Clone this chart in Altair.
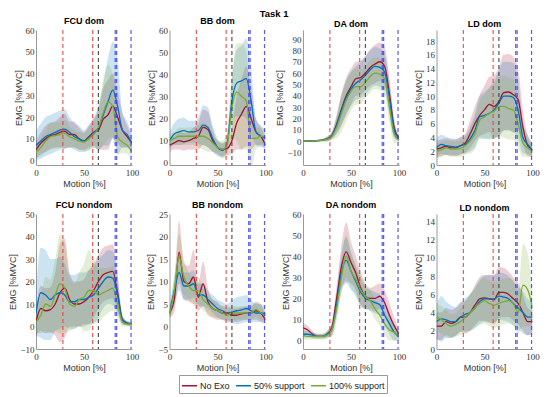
import altair as alt
import pandas as pd

X = list(range(0, 101, 5))
SERIES = ["No Exo", "50% support", "100% support"]
COLORS = ["#A2142F", "#0072BD", "#77AC30"]
PANELS = ["FCU dom", "BB dom", "DA dom", "LD dom",
          "FCU nondom", "BB nondom", "DA nondom", "LD nondom"]

# ---- FCU dom
fcu_dom_noexo = [5, 8, 10, 11.5, 12, 13, 13.5, 12, 12, 10, 9, 11, 13, 14, 19, 21, 25, 20, 14, 11, 8]
fcu_dom_50 = [7, 9, 11, 12, 13, 14, 14.5, 13, 11, 10, 9, 10.5, 13, 15, 21, 27, 32.5, 25, 14, 12, 8]
fcu_dom_100 = [4, 6, 9, 11, 11.5, 12, 12.5, 11, 10, 9, 8.5, 10, 12, 15, 22, 27, 25, 11, 8.5, 7, 4]
fcu_dom_noexo_sd = [4, 5, 6, 6, 6, 7, 8, 6, 6, 5, 4, 5, 6, 9, 14, 16, 15, 12, 8, 5, 3]
fcu_dom_50_sd = [7, 8, 9, 9, 9, 9, 9, 7, 6, 6, 5, 6, 7, 10, 14, 20, 22, 22, 8, 6, 4]
fcu_dom_100_sd = [3, 4, 5, 6, 6, 6, 6, 5, 4, 4, 4, 5, 6, 10, 15, 17, 14, 8, 5, 4, 3]

# ---- BB dom
bb_dom_noexo = [8, 9, 10, 9.5, 10, 11, 12, 16, 15, 10, 7, 6, 6.5, 10, 18, 22, 25.5, 20, 14, 12, 8]
bb_dom_50 = [10, 13, 14, 14.5, 14, 14, 14.5, 17, 16, 11, 7, 5.5, 9, 28, 36, 37, 38, 28, 14, 12, 11]
bb_dom_100 = [10, 11, 12, 12, 12, 12, 12, 12, 11, 9, 7, 6, 8, 25, 32, 30, 28, 11, 11, 12, 11.5]
bb_dom_noexo_sd = [3, 3, 4, 4, 4, 5, 6, 8, 8, 5, 3, 3, 3, 6, 12, 16, 18, 14, 6, 4, 3]
bb_dom_50_sd = [4, 5, 6, 6, 5, 5, 6, 9, 9, 6, 4, 3, 4, 10, 15, 16, 18, 15, 6, 5, 4]
bb_dom_100_sd = [3, 3, 4, 4, 4, 4, 5, 6, 6, 4, 3, 4, 5, 14, 22, 24, 22, 14, 5, 4, 3]

# ---- DA dom
da_dom_noexo = [0, 0, 0.2, 0.5, 1, 2, 5, 15, 28, 40, 48, 55, 56, 60, 65, 68, 70, 66, 42, 12, 3]
da_dom_50 = [0, 0, 0.2, 0.5, 1, 2, 5, 14, 27, 38, 46, 51, 54, 58, 63, 66, 65, 61, 38, 10, 2]
da_dom_100 = [0, 0, 0.2, 0.4, 0.8, 1.5, 4, 12, 24, 36, 44, 48, 48, 52, 57, 60, 59, 55, 30, 6, 1]
da_dom_noexo_sd = [0.3, 0.3, 0.5, 0.8, 1, 2, 3, 8, 14, 16, 16, 15, 15, 15, 16, 17, 17, 17, 15, 8, 3]
da_dom_50_sd = [0.3, 0.3, 0.5, 0.8, 1, 2, 3, 8, 13, 15, 15, 15, 16, 17, 17, 17, 17, 16, 14, 7, 2]
da_dom_100_sd = [0.3, 0.3, 0.5, 0.8, 1, 2, 3, 9, 16, 18, 17, 16, 15, 14, 14, 14, 14, 14, 14, 8, 2]

# ---- LD dom
ld_dom_noexo = [2.3, 2.5, 2.7, 2.5, 2.5, 2.8, 3.2, 4.5, 6, 7.2, 8, 8.8, 8.5, 9.2, 10.5, 10.6, 10.2, 9.5, 5.5, 2.8, 2.2]
ld_dom_50 = [2.5, 3, 2.8, 2.7, 2.6, 2.8, 3, 3.8, 5, 7, 7.2, 7.5, 8, 9, 10, 10, 9.8, 8, 4, 3, 2.2]
ld_dom_100 = [2, 2.2, 2.5, 2.3, 2.3, 2.4, 2.8, 3.5, 4.5, 6.5, 7, 7.5, 7.8, 8.5, 8.5, 8.2, 8, 6, 3.2, 2.5, 2]
ld_dom_noexo_sd = [1.2, 1.2, 1.2, 1.2, 1.2, 1.3, 1.4, 2, 2.5, 3, 3.5, 4, 4.5, 5, 5.5, 5.5, 5.5, 4.5, 2.5, 1.5, 1]
ld_dom_50_sd = [1.3, 1.4, 1.3, 1.2, 1.2, 1.2, 1.3, 1.8, 2.4, 3, 3.4, 3.8, 4.2, 4.8, 5, 5, 5, 4.2, 2.3, 1.4, 1]
ld_dom_100_sd = [1, 1.1, 1.1, 1.1, 1.1, 1.2, 1.3, 1.8, 2.3, 2.8, 3.2, 3.6, 4, 4.3, 4.5, 4.5, 4.4, 3.5, 2, 1.3, 0.9]

# ---- FCU nondom
fcu_nd_noexo = [2, 8, 7, 7.5, 10, 15, 17, 12, 10, 10, 11, 13, 16, 20, 23, 24, 24.5, 15, 3, 1.5, 1]
fcu_nd_50 = [6, 15, 14, 12, 14, 15, 14, 11, 11, 12, 12, 13, 14, 17, 20, 22, 21.5, 14, 3, 1.5, 1]
fcu_nd_100 = [2, 5, 10, 9, 14, 19, 17, 10, 9, 12, 13, 16, 16, 14, 15, 16, 17, 10, 2, 1, 1]
fcu_nd_noexo_sd = [6, 10, 10, 10, 14, 22, 22, 12, 10, 10, 10, 12, 12, 12, 12, 12, 12, 8, 2, 1, 1]
fcu_nd_50_sd = [10, 20, 20, 18, 16, 16, 14, 12, 12, 12, 12, 12, 13, 13, 12, 12, 12, 8, 2, 1, 1]
fcu_nd_100_sd = [5, 8, 12, 12, 16, 22, 20, 12, 10, 12, 15, 18, 14, 12, 11, 10, 10, 6, 2, 1, 1]

# ---- BB nondom
bb_nd_noexo = [3, 6, 16.5, 10, 9.5, 11, 6.5, 9.5, 5.5, 4, 3.5, 3, 3, 2.5, 2.5, 2.8, 3, 3, 3.5, 3, 1.5]
bb_nd_50 = [3, 8, 12, 9, 9, 9.5, 7, 7, 6, 5, 4, 3.5, 3, 3.2, 3.5, 3.7, 4, 3.5, 3, 3, 2.8]
bb_nd_100 = [2.5, 8, 15.5, 11, 9, 8, 8, 6, 5, 4, 3.5, 3, 2.5, 3, 3, 3, 3, 3, 3.8, 3, 2.5]
bb_nd_noexo_sd = [1, 3, 7, 4, 4, 6, 3, 5, 3, 2, 2, 1.5, 1.5, 1.5, 1.5, 1.5, 1.5, 1.5, 2, 2, 1]
bb_nd_50_sd = [1.5, 3, 4, 3, 3, 3, 2.5, 2.5, 2, 2, 2, 2, 2, 2.5, 3, 3, 3, 2.5, 2, 2, 1.5]
bb_nd_100_sd = [1, 3, 5, 4, 3, 3, 3, 2.5, 2, 2, 1.5, 1.5, 1.5, 1.5, 1.5, 1.5, 1.5, 1.5, 1.5, 1.5, 1]

# ---- DA nondom
da_nd_noexo = [6, 5, 3, 2, 2, 3, 6, 20, 35, 42, 37, 32, 25, 21, 20, 20, 21, 18, 12, 7, 3]
da_nd_50 = [3, 3, 2.5, 2, 2, 3, 5, 17, 32, 38, 33, 28, 23, 20, 19, 18, 17, 12, 8, 4, 2]
da_nd_100 = [2.5, 2, 2, 2, 2, 2.5, 5, 15, 30, 40, 33, 29, 24, 21, 19, 15, 12, 8, 5, 4, 2]
da_nd_noexo_sd = [2.5, 2, 1.5, 1, 1, 1.5, 3, 6, 10, 14, 10, 8, 8, 6, 5, 6, 6, 6, 6, 4, 2]
da_nd_50_sd = [2, 1.5, 1.5, 1, 1, 1.5, 3, 6, 9, 11, 9, 7, 7, 5, 5, 5, 5, 5, 5, 4, 2]
da_nd_100_sd = [2, 1.5, 1.5, 1.5, 1.5, 1.5, 3, 6, 8, 10, 8, 7, 7, 5, 5, 5, 5, 5, 5, 4, 2]

# ---- LD nondom
ld_nd_noexo = [2.5, 2.5, 3, 2.8, 3, 3.5, 3.5, 4, 4.8, 5.5, 5.6, 5.5, 5.4, 6.2, 6.2, 6, 5.5, 5, 4, 3, 3]
ld_nd_50 = [3, 3.3, 3.2, 3, 3, 3.5, 3.8, 4, 4.5, 5.2, 5.5, 5.5, 5.5, 5.8, 5.7, 5.5, 5, 4.5, 4, 3.5, 3.5]
ld_nd_100 = [3.5, 3.2, 2.8, 2.5, 2.7, 3, 3.5, 4, 4.5, 5, 5.3, 5, 4.8, 5, 5.2, 5.3, 5, 4, 7, 6.5, 4.5]
ld_nd_noexo_sd = [1.5, 1.5, 1.5, 1.5, 1.5, 1.6, 1.8, 2, 2.2, 2.4, 2.5, 2.6, 2.7, 2.8, 2.7, 2.5, 2.4, 2.3, 2, 1.5, 1.2]
ld_nd_50_sd = [1.8, 2.5, 2, 1.8, 1.6, 1.6, 1.8, 2, 2.2, 2.4, 2.5, 2.6, 2.6, 2.6, 2.6, 2.5, 2.4, 2.3, 2.3, 2, 1.8]
ld_nd_100_sd = [1.5, 1.5, 1.5, 1.3, 1.3, 1.5, 1.7, 2, 2.2, 2.4, 2.5, 2.5, 2.5, 2.5, 2.5, 2.5, 2.5, 2.3, 4.5, 4, 2]

PANEL_DATA = [
    ([fcu_dom_noexo, fcu_dom_50, fcu_dom_100], [fcu_dom_noexo_sd, fcu_dom_50_sd, fcu_dom_100_sd]),
    ([bb_dom_noexo, bb_dom_50, bb_dom_100], [bb_dom_noexo_sd, bb_dom_50_sd, bb_dom_100_sd]),
    ([da_dom_noexo, da_dom_50, da_dom_100], [da_dom_noexo_sd, da_dom_50_sd, da_dom_100_sd]),
    ([ld_dom_noexo, ld_dom_50, ld_dom_100], [ld_dom_noexo_sd, ld_dom_50_sd, ld_dom_100_sd]),
    ([fcu_nd_noexo, fcu_nd_50, fcu_nd_100], [fcu_nd_noexo_sd, fcu_nd_50_sd, fcu_nd_100_sd]),
    ([bb_nd_noexo, bb_nd_50, bb_nd_100], [bb_nd_noexo_sd, bb_nd_50_sd, bb_nd_100_sd]),
    ([da_nd_noexo, da_nd_50, da_nd_100], [da_nd_noexo_sd, da_nd_50_sd, da_nd_100_sd]),
    ([ld_nd_noexo, ld_nd_50, ld_nd_100], [ld_nd_noexo_sd, ld_nd_50_sd, ld_nd_100_sd]),
]

Y_DOMAINS = [[-2, 60], [-1, 60], [-21, 98], [0, 19.6], [-10, 50], [-5, 25], [-4, 60], [0, 14.8]]
Y_TICKS = [list(range(0, 61, 10)), list(range(0, 61, 10)), list(range(-10, 91, 10)),
           list(range(0, 19, 2)), list(range(-10, 51, 10)), list(range(-5, 26, 5)),
           list(range(0, 61, 10)), list(range(0, 15, 2))]
X_TICKS = [0, 50, 100]

VLINE_RED = [28, 59]
VLINE_BLACK = [65]
VLINE_BLUE = [82.5, 84, 99]

color_scale = alt.Scale(domain=SERIES, range=COLORS)
legend = alt.Legend(orient="none", legendX=143, legendY=345, direction="horizontal",
                    title=None, symbolType="stroke", symbolSize=225, symbolStrokeWidth=1.5,
                    labelFont="Liberation Sans", labelFontSize=9, labelColor="#222",
                    strokeColor="#999", fillColor="white", padding=2, columnPadding=3,
                    labelOffset=2)

charts = []
for i, name in enumerate(PANELS):
    means, sds = PANEL_DATA[i]
    rows = []
    for s, m, sd in zip(SERIES, means, sds):
        for x, mv, dv in zip(X, m, sd):
            rows.append({"x": x, "series": s, "mean": mv, "lo": mv - dv, "hi": mv + dv})
    df = pd.DataFrame(rows)
    xenc = alt.X("x:Q", scale=alt.Scale(domain=[0, 100], nice=False),
                 axis=alt.Axis(values=X_TICKS, title="Motion [%]"))
    yscale = alt.Scale(domain=Y_DOMAINS[i], nice=False, zero=False)
    yaxis = alt.Axis(values=Y_TICKS[i], title="EMG [%MVC]")
    base = alt.Chart(df)
    bands = []
    for s, c in zip(SERIES, COLORS):
        bands.append(base.transform_filter(alt.datum.series == s).mark_area(
            opacity=0.2, color=c, interpolate="monotone", clip=True).encode(
            x=xenc,
            y=alt.Y("lo:Q", scale=yscale, axis=yaxis),
            y2="hi:Q",
        ))
    line = base.mark_line(strokeWidth=1.3, interpolate="monotone", clip=True).encode(
        x=xenc,
        y=alt.Y("mean:Q", scale=yscale, axis=yaxis),
        color=alt.Color("series:N", scale=color_scale, legend=legend, sort=SERIES),
    )
    rules = []
    for vals, col in [(VLINE_RED, "#ee3b3b"), (VLINE_BLACK, "#3a3a3a"), (VLINE_BLUE, "#3c3cf0")]:
        rules.append(alt.Chart(pd.DataFrame({"x": vals})).mark_rule(
            color=col, strokeDash=[4, 3], strokeWidth=1.2, opacity=0.85).encode(
            x=alt.X("x:Q", scale=alt.Scale(domain=[0, 100], nice=False))))
    panel = alt.layer(*bands, line, *rules).properties(
        width=96, height=135,
        title=alt.TitleParams(name, fontSize=9, offset=0, font="Liberation Sans",
                              fontWeight="bold", frame="group"),
    )
    charts.append(panel)

chart = alt.concat(*charts, columns=4, spacing={"row": 49, "column": 37.5}, bounds="flush").properties(
    title=alt.TitleParams("Task 1", anchor="middle", fontSize=9.5, font="Liberation Sans",
                          fontWeight="bold", offset=-1),
    padding={"left": 0, "top": 0, "right": 0, "bottom": 0},
).configure_axis(
    labelFont="Liberation Serif", labelFontSize=9, labelColor="#333",
    titleFont="Liberation Sans", titleFontSize=9, titleFontWeight="normal", titleColor="#333",
    grid=False, ticks=False, domainColor="#9a9a9a", labelPadding=2, titlePadding=2,
).configure_axisX(labelFlush=False, labelPadding=3).configure_view(stroke=None)

chart.save("out.html", embed_options={"renderer": "svg", "actions": False})
